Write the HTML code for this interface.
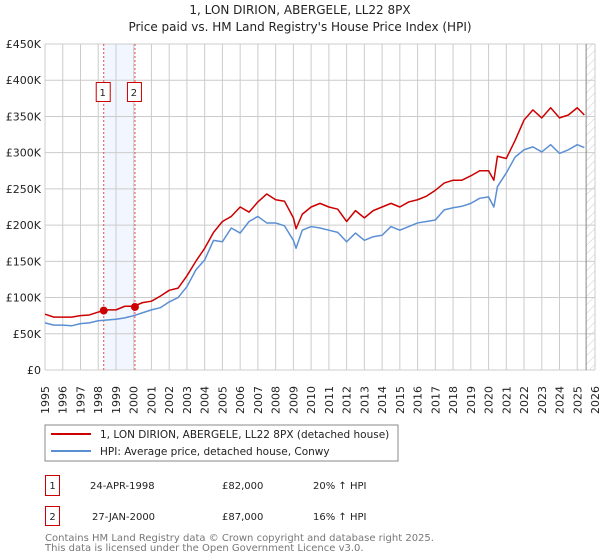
<!DOCTYPE html>
<html><head><meta charset="utf-8"><style>
body{margin:0;background:#fff}
svg{display:block;font-family:"DejaVu Sans","Liberation Sans",sans-serif}
</style></head><body>
<svg id="c" width="600" height="560" viewBox="0 0 600 560">
<defs><pattern id="hatch" width="6" height="6" patternUnits="userSpaceOnUse" patternTransform="rotate(45)"><line x1="0" y1="0" x2="0" y2="6" stroke="#ccc" stroke-width="1"/></pattern></defs>
<text x="300" y="14" text-anchor="middle" font-size="12" fill="#222">1, LON DIRION, ABERGELE, LL22 8PX</text>
<text x="300" y="31" text-anchor="middle" font-size="12" fill="#222">Price paid vs. HM Land Registry's House Price Index (HPI)</text>
<g id="grid"></g><g id="plot"></g><g id="axes"></g>
<g>
<rect x="45" y="425" width="353" height="36" fill="#fff" stroke="#888"/>
<line x1="51" y1="434" x2="91" y2="434" stroke="#cc0000" stroke-width="2"/>
<text x="100" y="438" font-size="10.5" fill="#222">1, LON DIRION, ABERGELE, LL22 8PX (detached house)</text>
<line x1="51" y1="451" x2="91" y2="451" stroke="#5b8fd4" stroke-width="2"/>
<text x="100" y="455" font-size="10.5" fill="#222">HPI: Average price, detached house, Conwy</text>
</g>
<g font-size="10" fill="#222">
<rect x="45.5" y="475.5" width="14" height="20" fill="#fff" stroke="#cc0000"/>
<text x="52.5" y="489" text-anchor="middle">1</text>
<text x="90" y="489">24-APR-1998</text>
<text x="222" y="489">£82,000</text>
<text x="313" y="489">20% ↑ HPI</text>
<rect x="45.5" y="506.5" width="14" height="19" fill="#fff" stroke="#cc0000"/>
<text x="52.5" y="520" text-anchor="middle">2</text>
<text x="92" y="520">27-JAN-2000</text>
<text x="222" y="520">£87,000</text>
<text x="313" y="520">16% ↑ HPI</text>
</g>
<text x="45" y="541" font-size="10" fill="#777">Contains HM Land Registry data © Crown copyright and database right 2025.</text>
<text x="45" y="551" font-size="10" fill="#777">This data is licensed under the Open Government Licence v3.0.</text>
</svg>
<script>
const hpiYears=[1995,1995.5,1996,1996.5,1997,1997.5,1998,1998.5,1999,1999.5,2000,2000.5,2001,2001.5,2002,2002.5,2003,2003.5,2004,2004.5,2005,2005.5,2006,2006.5,2007,2007.5,2008,2008.5,2009,2009.15,2009.5,2010,2010.5,2011,2011.5,2012,2012.5,2013,2013.5,2014,2014.5,2015,2015.5,2016,2016.5,2017,2017.5,2018,2018.5,2019,2019.5,2020,2020.3,2020.5,2021,2021.5,2022,2022.5,2023,2023.5,2024,2024.5,2025,2025.4];
const hpiValues=[65,62,62,61,64,65,68,69,70,72,75,79,83,86,94,100,115,138,152,179,177,196,189,205,212,203,203,199,179,168,193,198,196,193,190,177,189,179,184,186,198,193,198,203,205,207,221,224,226,230,237,239,225,253,272,294,304,308,301,311,299,304,311,307];
const priceYears=hpiYears;
const priceValues=[77,73,73,73,75,76,80,83,83,88,88,93,95,102,110,113,130,150,168,190,205,212,225,218,232,243,235,233,210,195,215,225,230,225,222,205,220,210,220,225,230,225,232,235,240,248,258,262,262,268,275,275,262,295,292,317,345,359,348,362,348,352,362,352];
const yTicks=[0,50,100,150,200,250,300,350,400,450];
const yTickLabels=["£0","£50K","£100K","£150K","£200K","£250K","£300K","£350K","£400K","£450K"];
const xTicks=[1995,1996,1997,1998,1999,2000,2001,2002,2003,2004,2005,2006,2007,2008,2009,2010,2011,2012,2013,2014,2015,2016,2017,2018,2019,2020,2021,2022,2023,2024,2025,2026];
const saleYears=[1998.31,2000.07];
const saleValues=[82,87];
const saleLabels=["1","2"];
const dataEndYear=2025.5;

const X0=45,X1=595,Y0=370,Y1=44;
const xs=y=>X0+(y-1995)/(2026-1995)*(X1-X0);
const ys=v=>Y0-v/450*(Y0-Y1);
const NS="http://www.w3.org/2000/svg";
function mk(t,a,p){const e=document.createElementNS(NS,t);for(const k in a)e.setAttribute(k,a[k]);p.appendChild(e);return e;}
const grid=document.getElementById('grid'),plot=document.getElementById('plot'),axes=document.getElementById('axes');

const band=mk('rect',{x:xs(saleYears[0]),y:Y1,width:xs(saleYears[1])-xs(saleYears[0]),height:Y0-Y1,fill:'#f2f6fe'},grid);


const hz=mk('rect',{x:xs(dataEndYear),y:Y1,width:X1-xs(dataEndYear),height:Y0-Y1,fill:'url(#hatch)'},grid);


yTicks.forEach((v,i)=>{
  const l=mk('line',{x1:X0,x2:X1,y1:ys(v),y2:ys(v),stroke:'#ccc','stroke-width':1},grid);
  
  
  const t=mk('text',{x:X0-4,y:ys(v)+4,'text-anchor':'end','font-size':11,fill:'#222'},axes);
  t.textContent=yTickLabels[i];
  
  
});
xTicks.forEach(y=>{
  const l=mk('line',{x1:xs(y),x2:xs(y),y1:Y1,y2:Y0,stroke:'#ccc','stroke-width':1},grid);
  
  
  const t=mk('text',{x:xs(y),y:386,'font-size':11,fill:'#222',transform:`rotate(-90 ${xs(y)} 386)`,dy:4,'text-anchor':'end'},axes);
  t.textContent=y;
  
  
});
const el=mk('line',{x1:xs(dataEndYear),x2:xs(dataEndYear),y1:Y1,y2:Y0,stroke:'#888','stroke-width':1},grid);


saleYears.forEach((y,i)=>{
  const l=mk('line',{x1:xs(y),x2:xs(y),y1:Y1,y2:Y0,stroke:'#e05050','stroke-width':1,'stroke-dasharray':'2,2'},grid);
  
  
  const r=mk('rect',{x:xs(y)-7.5,y:82.5,width:14,height:19,fill:'#fff',stroke:'#cc0000'},grid);
  
  
  const t=mk('text',{x:xs(y)-1,y:96,'text-anchor':'middle','font-size':10,fill:'#222'},grid);
  t.textContent=saleLabels[i];
  
  
});
const hp=mk('polyline',{points:hpiYears.map((y,i)=>xs(y)+','+ys(hpiValues[i])).join(' '),fill:'none',stroke:'#5b8fd4','stroke-width':1.5,'stroke-linejoin':'round'},plot);


const pp=mk('polyline',{points:priceYears.map((y,i)=>xs(y)+','+ys(priceValues[i])).join(' '),fill:'none',stroke:'#cc0000','stroke-width':1.5,'stroke-linejoin':'round'},plot);


saleYears.forEach((y,i)=>{
  const c=mk('circle',{cx:xs(y),cy:ys(saleValues[i]),r:4,fill:'#cc0000'},plot);
  
  
});
</script>
</body></html>
